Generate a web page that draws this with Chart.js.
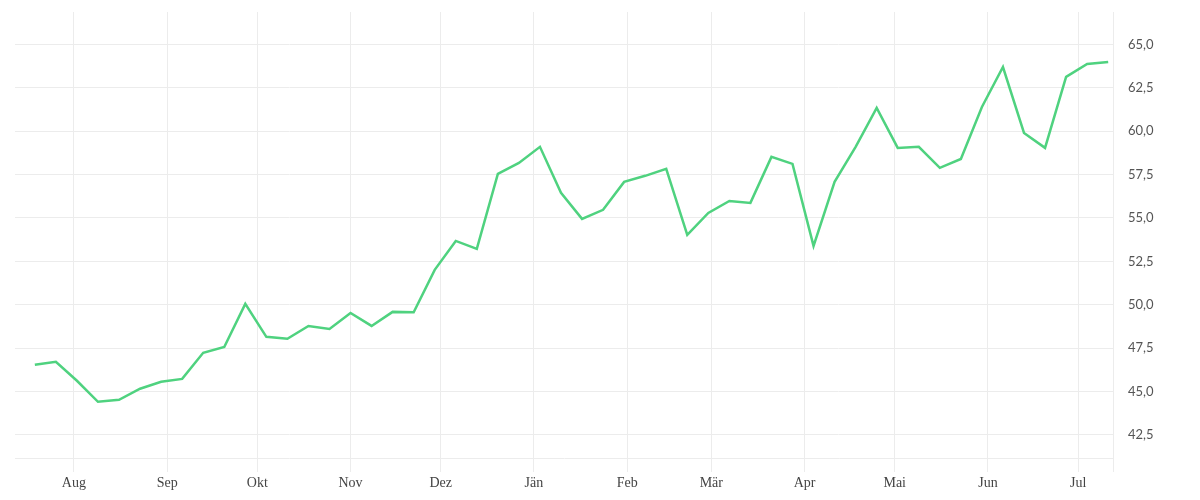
<!DOCTYPE html>
<html>
<head>
<meta charset="utf-8">
<script src="https://cdn.jsdelivr.net/npm/chart.js@4"></script>
<style>
  body { margin: 0; background: #fff; }
</style>
</head>
<body>
<canvas id="chart" width="1200" height="500"></canvas>
<script>
// weekly readings
let datas = [
    '2018-07-19', '2018-07-26', '2018-08-02', '2018-08-09', '2018-08-16', '2018-08-23', '2018-08-30',
    '2018-09-06', '2018-09-13', '2018-09-20', '2018-09-27', '2018-10-04', '2018-10-11', '2018-10-18',
    '2018-10-25', '2018-11-01', '2018-11-08', '2018-11-15', '2018-11-22', '2018-11-29', '2018-12-06',
    '2018-12-13', '2018-12-20', '2018-12-27', '2019-01-03', '2019-01-10', '2019-01-17', '2019-01-24',
    '2019-01-31', '2019-02-07', '2019-02-14', '2019-02-21', '2019-02-28', '2019-03-07', '2019-03-14',
    '2019-03-21', '2019-03-28', '2019-04-04', '2019-04-11', '2019-04-18', '2019-04-25', '2019-05-02',
    '2019-05-09', '2019-05-16', '2019-05-23', '2019-05-30', '2019-06-06', '2019-06-13', '2019-06-20',
    '2019-06-27', '2019-07-04', '2019-07-11'
];

let valores = [
    46.54, 46.71, 45.62, 44.41, 44.52, 45.16, 45.56,
    45.73, 47.23, 47.57, 50.05, 48.15, 48.04, 48.78,
    48.61, 49.53, 48.78, 49.59, 49.57, 52.01, 53.68,
    53.22, 57.54, 58.17, 59.10, 56.45, 54.95, 55.47,
    57.08, 57.43, 57.83, 54.03, 55.29, 55.98, 55.87,
    58.52, 58.12, 53.39, 57.08, 59.10, 61.34, 59.04,
    59.10, 57.89, 58.40, 61.40, 63.70, 59.90, 59.04,
    63.13, 63.88, 63.99
];

let inicioMeses = [
    '2018-08-01', '2018-09-01', '2018-10-01', '2018-11-01', '2018-12-01', '2019-01-01',
    '2019-02-01', '2019-03-01', '2019-04-01', '2019-05-01', '2019-06-01', '2019-07-01'
];
let nomesMeses = ['Aug', 'Sep', 'Okt', 'Nov', 'Dez', 'Jän', 'Feb', 'Mär', 'Apr', 'Mai', 'Jun', 'Jul'];

let ticksY = [42.5, 45, 47.5, 50, 52.5, 55, 57.5, 60, 62.5, 65];

// days since 1 Aug 2018
let origem = Date.UTC(2018, 7, 1);
let dia = (s) => {
    let p = s.split('-');
    return (Date.UTC(+p[0], +p[1] - 1, +p[2]) - origem) / 86400000;
};

let pontos = datas.map((d, i) => ({ x: dia(d), y: valores[i] }));
let diasMeses = inicioMeses.map(dia);

let xMin = -19.6;
let xMax = 345.6;
let corGrade = '#ececec';

let context = document.querySelector('#chart').getContext('2d');

let config = {
    type: 'line',
    data: {
        datasets: [{
            data: pontos,
            borderColor: '#4fd27f',
            borderWidth: 2.5,
            pointRadius: 0,
            tension: 0,
            fill: false
        }]
    },
    options: {
        responsive: false,
        animation: false,
        layout: {
            padding: { top: 12, left: 15, right: 0, bottom: 0 }
        },
        plugins: {
            legend: { display: false },
            tooltip: { enabled: false }
        },
        scales: {
            x: {
                type: 'linear',
                min: xMin,
                max: xMax,
                afterBuildTicks: (scale) => {
                    scale.ticks = diasMeses.map(v => ({ value: v })).concat([{ value: xMax }]);
                },
                afterFit: (scale) => {
                    scale.height = 42;
                    scale.paddingLeft = 0;
                    scale.paddingRight = 0;
                },
                grid: {
                    color: corGrade,
                    tickLength: 14,
                    tickColor: corGrade
                },
                border: { color: corGrade },
                ticks: {
                    autoSkip: false,
                    maxRotation: 0,
                    padding: 3,
                    color: '#444',
                    font: { family: 'Liberation Serif', size: 14 },
                    callback: (value) => {
                        let i = diasMeses.indexOf(value);
                        return i >= 0 ? nomesMeses[i] : '';
                    }
                }
            },
            y: {
                position: 'right',
                min: 41.17,
                max: 66.87,
                afterBuildTicks: (scale) => {
                    scale.ticks = ticksY.map(v => ({ value: v }));
                },
                afterFit: (scale) => {
                    scale.width = 87;
                    scale.paddingTop = 0;
                    scale.paddingBottom = 0;
                },
                grid: {
                    color: corGrade,
                    drawTicks: false
                },
                border: { color: corGrade },
                ticks: {
                    padding: 15,
                    color: '#555',
                    font: { family: 'Lato', size: 13 },
                    callback: (value) => value.toFixed(1).replace('.', ',')
                }
            }
        }
    }
};

let chart = new Chart(context, config);
</script>
</body>
</html>
